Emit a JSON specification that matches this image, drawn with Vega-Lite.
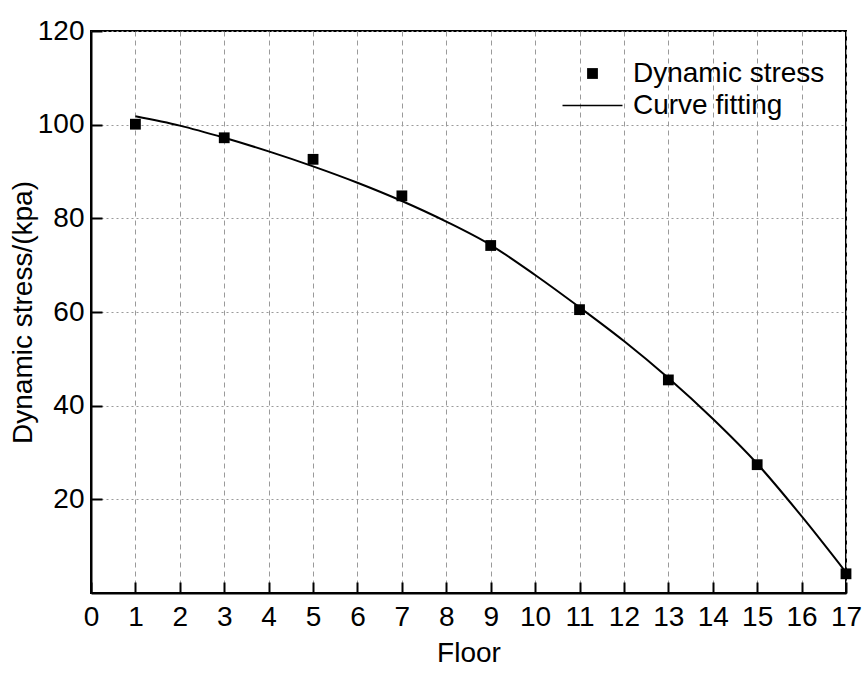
{
  "$schema": "https://vega.github.io/schema/vega-lite/v6.json",
  "width": 755,
  "height": 562,
  "autosize": {"type": "none"},
  "padding": {"left": 91, "top": 31, "right": 16, "bottom": 80},
  "background": "white",
  "config": {
    "font": "Liberation Sans",
    "view": {"stroke": "black", "strokeWidth": 2},
    "axis": {
      "domainColor": "black",
      "domainWidth": 2,
      "tickColor": "black",
      "tickWidth": 2,
      "tickSize": -11,
      "labelFont": "Liberation Sans",
      "labelFontSize": 28,
      "labelColor": "black",
      "titleFont": "Liberation Sans",
      "titleFontSize": 28,
      "titleFontWeight": "normal",
      "titleColor": "black",
      "gridColor": "#9a9a9a",
      "gridWidth": 1
    }
  },
  "datasets": {
    "points": [
      {"floor": 1, "stress": 100.1, "series": "Dynamic stress"},
      {"floor": 3, "stress": 97.2, "series": "Dynamic stress"},
      {"floor": 5, "stress": 92.6, "series": "Dynamic stress"},
      {"floor": 7, "stress": 84.8, "series": "Dynamic stress"},
      {"floor": 9, "stress": 74.2, "series": "Dynamic stress"},
      {"floor": 11, "stress": 60.5, "series": "Dynamic stress"},
      {"floor": 13, "stress": 45.5, "series": "Dynamic stress"},
      {"floor": 15, "stress": 27.4, "series": "Dynamic stress"},
      {"floor": 17, "stress": 4.1, "series": "Dynamic stress"}
    ],
    "curve": [
      {"floor": 1, "stress": 101.8},
      {"floor": 2, "stress": 99.8},
      {"floor": 3, "stress": 97.2},
      {"floor": 4, "stress": 94.3},
      {"floor": 5, "stress": 91.1},
      {"floor": 6, "stress": 87.6},
      {"floor": 7, "stress": 83.7},
      {"floor": 8, "stress": 79.3},
      {"floor": 9, "stress": 74.3},
      {"floor": 10, "stress": 67.9},
      {"floor": 11, "stress": 61.0},
      {"floor": 12, "stress": 53.8},
      {"floor": 13, "stress": 45.9},
      {"floor": 14, "stress": 37.2},
      {"floor": 15, "stress": 27.6},
      {"floor": 16, "stress": 16.4},
      {"floor": 17, "stress": 4.4}
    ]
  },
  "layer": [
    {
      "data": {"name": "curve"},
      "mark": {"type": "line", "color": "black", "strokeWidth": 2, "interpolate": "monotone"},
      "encoding": {
        "x": {
          "field": "floor", "type": "quantitative",
          "scale": {"domain": [0, 17], "nice": false, "zero": false},
          "axis": {
            "title": "Floor",
            "values": [0,1,2,3,4,5,6,7,8,9,10,11,12,13,14,15,16,17],
            "labelPadding": 21,
            "titlePadding": 8,
            "grid": true,
            "gridDash": [5, 4],
            "labelFlush": false,
            "labelOverlap": false
          }
        },
        "y": {
          "field": "stress", "type": "quantitative",
          "scale": {"domain": [0, 120], "nice": false},
          "axis": {
            "title": "Dynamic stress/(kpa)",
            "values": [20, 40, 60, 80, 100, 120],
            "labelPadding": 18,
            "titlePadding": 0,
            "grid": true,
            "gridDash": [2, 3],
            "labelFlush": false,
            "labelOverlap": false
          }
        }
      }
    },
    {
      "data": {"name": "points"},
      "mark": {"type": "point", "filled": true, "color": "black", "opacity": 1, "size": 900},
      "encoding": {
        "x": {"field": "floor", "type": "quantitative"},
        "y": {"field": "stress", "type": "quantitative"},
        "shape": {
          "field": "series", "type": "nominal",
          "scale": {
            "domain": ["Dynamic stress", "Curve fitting"],
            "range": ["M-0.36,-0.36H0.36V0.36H-0.36Z", "M-2,-0.05H2V0.05H-2Z"]
          },
          "legend": {
            "title": null,
            "orient": "none",
            "legendX": 486,
            "legendY": 27,
            "symbolSize": 900,
            "symbolFillColor": "black",
            "symbolStrokeColor": "black",
            "symbolStrokeWidth": 0.5,
            "labelFont": "Liberation Sans",
            "labelFontSize": 28,
            "labelColor": "black",
            "labelLimit": 400,
            "labelOffset": 25,
            "rowPadding": 2,
            "padding": 0,
            "encode": {
              "symbols": {
                "update": {
                  "stroke": {"value": "black"},
                  "strokeWidth": {"value": 0.5},
                  "fill": {"value": "black"},
                  "opacity": {"value": 1}
                }
              }
            }
          }
        }
      }
    }
  ]
}
